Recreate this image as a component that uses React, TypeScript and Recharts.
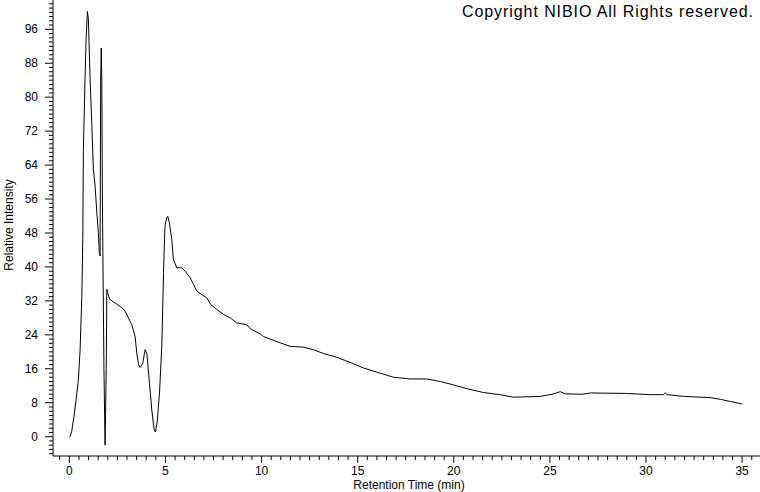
import React from "react";
import { LineChart, Line, XAxis, YAxis } from "recharts";

// Retention time (min) and relative intensity.
const retentionTime = [
  0.0, 0.04, 0.12, 0.24, 0.35, 0.47, 0.56, 0.65, 0.7, 0.73, 0.82, 0.87, 0.94,
  0.99, 1.08, 1.17, 1.25, 1.34, 1.43, 1.51, 1.56, 1.6, 1.63, 1.66, 1.69, 1.72,
  1.8, 1.86, 1.92, 1.95, 2.05, 2.12, 2.38, 2.73, 2.9, 3.07, 3.25, 3.42, 3.51,
  3.6, 3.68, 3.82, 3.94, 4.03, 4.17, 4.29, 4.41, 4.48, 4.58, 4.69, 4.81, 4.9,
  4.95, 4.98, 5.06, 5.12, 5.2, 5.33, 5.41, 5.59, 5.85, 6.02, 6.28, 6.46, 6.63,
  6.89, 7.15, 7.36, 7.67, 8.02, 8.37, 8.71, 9.23, 9.42, 9.93, 10.1, 10.97,
  11.49, 12.18, 12.7, 13.22, 13.92, 14.61, 15.3, 16.0, 16.87, 17.74, 18.6,
  19.3, 19.99, 20.69, 21.55, 22.42, 23.11, 24.5, 25.11, 25.54, 25.8, 26.67,
  27.1, 28.93, 30.23, 30.9, 31.0, 31.1, 31.96, 33.35, 33.87, 34.39, 35.0,
];

const relativeIntensity = [
  0.0, 0.0, 1.2, 4.7, 8.6, 13.4, 20.5, 33.1, 46.5, 67.6, 84.9, 93.5, 100.2,
  98.5, 84.3, 73.3, 63.0, 59.1, 52.8, 48.1, 43.4, 42.6, 84.3, 91.6, 84.0, 56.0,
  16.0, -2.0, 16.0, 34.7, 33.0, 32.3, 31.5, 30.4, 29.6, 28.0, 26.4, 23.6, 19.7,
  17.0, 16.3, 17.3, 20.5, 19.7, 12.6, 6.3, 1.6, 1.1, 3.9, 10.3, 21.3, 38.6,
  46.5, 49.7, 51.5, 51.9, 50.5, 46.5, 41.8, 39.8, 39.8, 39.0, 37.5, 35.9, 34.3,
  33.5, 32.7, 31.1, 30.0, 28.8, 28.0, 26.8, 26.4, 25.4, 24.2, 23.6, 22.1,
  21.3, 21.1, 20.5, 19.6, 18.7, 17.5, 16.2, 15.2, 14.0, 13.6, 13.6,
  13.0, 12.2, 11.3, 10.4, 9.9, 9.3, 9.5, 10.0, 10.6, 10.1, 10.0,
  10.3, 10.2, 9.9, 9.9, 10.3, 9.9, 9.5, 9.2, 8.8, 8.3, 7.7,
];

const xMajorTicks = [0, 5, 10, 15, 20, 25, 30, 35];
const yMajorTicks = [0, 8, 16, 24, 32, 40, 48, 56, 64, 72, 80, 88, 96];

// minor ticks: every 0.5 min on x, every 1 unit on y
const xTicks: number[] = [];
for (let i = -1; i <= 71; i++) xTicks.push(i / 2);
const yTicks: number[] = [];
for (let i = -4; i <= 102; i++) yTicks.push(i);

const data = retentionTime.map((t, i) => ({ time: t, intensity: relativeIntensity[i] }));

const FONT = "Arial, 'Liberation Sans', sans-serif";

function XTick(props: any) {
  const { x, y, payload } = props;
  const v = payload.value as number;
  const major = xMajorTicks.includes(v);
  return (
    <g>
      <line x1={x} x2={x} y1={y} y2={y + (major ? 7 : 4)} stroke="#000" />
      {major && (
        <text x={x} y={y + 19} textAnchor="middle" fontSize={12} fontFamily={FONT} fill="#000">
          {v}
        </text>
      )}
    </g>
  );
}

function YTick(props: any) {
  const { x, y, payload } = props;
  const v = payload.value as number;
  const major = yMajorTicks.includes(v);
  return (
    <g>
      <line x1={x} x2={x - (major ? 8 : 4)} y1={y} y2={y} stroke="#000" />
      {major && (
        <text x={x - 15} y={y + 4} textAnchor="end" fontSize={12} fontFamily={FONT} fill="#000">
          {v}
        </text>
      )}
    </g>
  );
}

export default function App() {
  return (
    <div style={{ position: "absolute", left: 0, top: 0, width: 760, height: 492, background: "#fff" }}>
      <LineChart width={760} height={492} data={data} margin={{ top: 0, right: 0, bottom: 0, left: 0 }}>
        <XAxis
          dataKey="time"
          type="number"
          domain={[-0.85, 35.93]}
          allowDataOverflow
          ticks={xTicks}
          interval={0}
          tick={<XTick />}
          tickLine={false}
          tickSize={0}
          tickMargin={0}
          height={36}
          axisLine={{ stroke: "#000" }}
          label={() => (
            <text x={409} y={489} textAnchor="middle" fontSize={12} fontFamily={FONT} fill="#000">
              Retention Time (min)
            </text>
          )}
        />
        <YAxis
          type="number"
          domain={[-4.55, 102.9]}
          allowDataOverflow
          ticks={yTicks}
          interval={0}
          tick={<YTick />}
          tickLine={false}
          tickSize={0}
          tickMargin={0}
          width={53}
          axisLine={{ stroke: "#000" }}
          label={() => (
            <text
              x={0}
              y={0}
              transform="translate(13, 225) rotate(-90)"
              textAnchor="middle"
              fontSize={12}
              fontFamily={FONT}
              fill="#000"
            >
              Relative Intensity
            </text>
          )}
        />
        <Line
          type="linear"
          dataKey="intensity"
          stroke="#000"
          strokeWidth={1}
          dot={false}
          isAnimationActive={false}
        />
      </LineChart>
      <svg
        width={760}
        height={40}
        style={{ position: "absolute", left: 0, top: 0, pointerEvents: "none" }}
      >
        <text
          x={462}
          y={17}
          textLength={291}
          lengthAdjust="spacing"
          fontSize={16}
          fontFamily={FONT}
          fill="#000"
        >
          Copyright NIBIO All Rights reserved.
        </text>
      </svg>
    </div>
  );
}
